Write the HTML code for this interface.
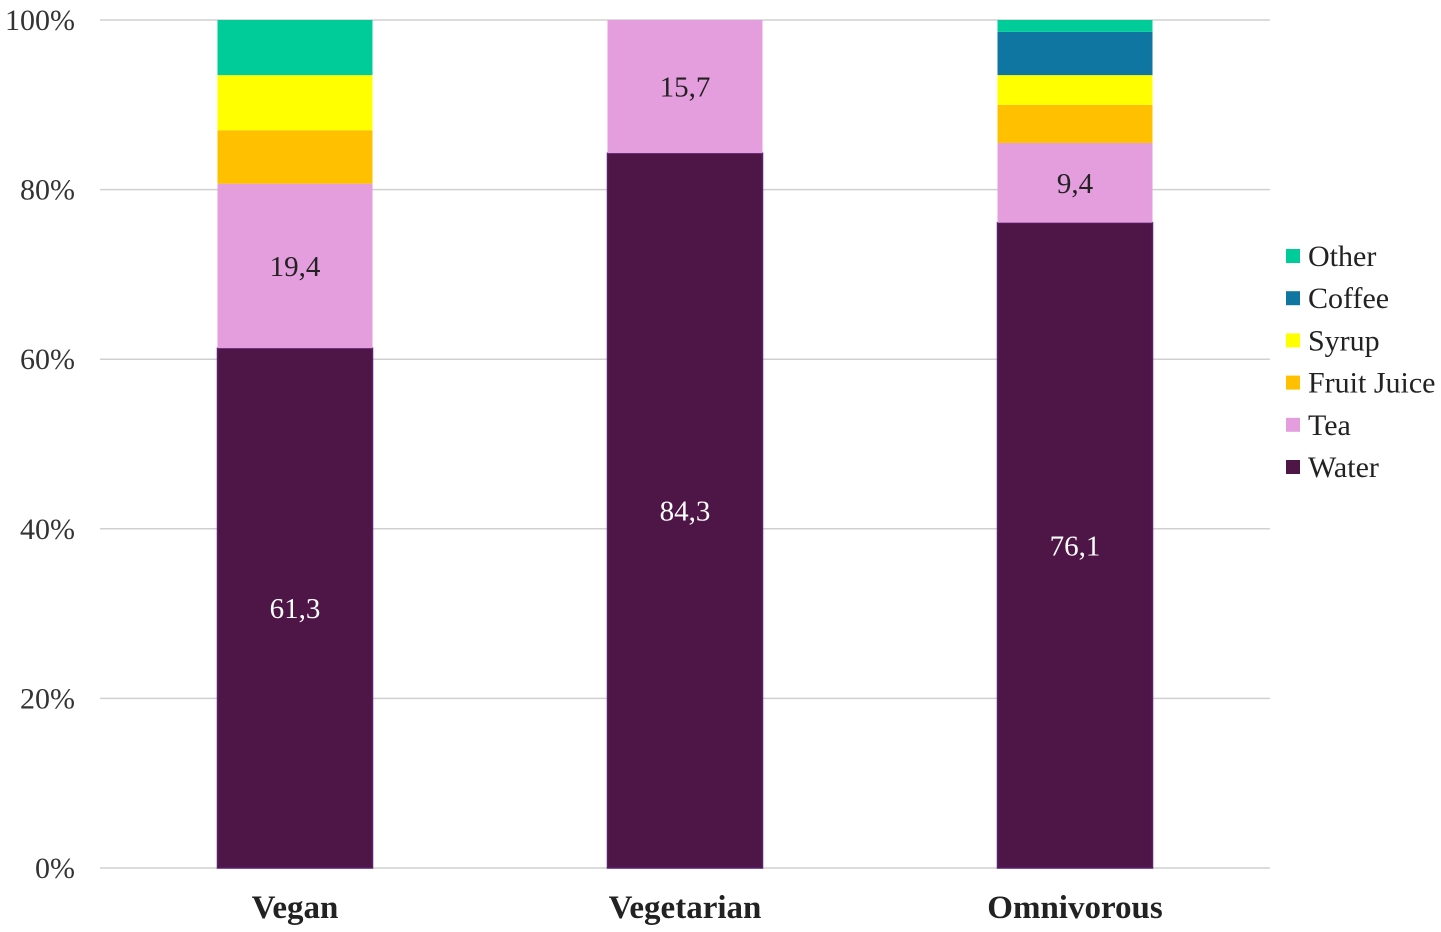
<!DOCTYPE html>
<html><head><meta charset="utf-8"><style>
html,body{margin:0;padding:0;background:#fff;}
svg{display:block;font-family:"Liberation Serif",serif;}
</style></head><body>
<svg id="chart" width="1441" height="932" viewBox="0 0 1441 932">
<g id="grid"></g><g id="bars"></g><g id="labels"></g><g id="legend"></g>
</svg>
<script>
const categories = ["Vegan","Vegetarian","Omnivorous"];
const seriesNames = ["Water","Tea","Fruit Juice","Syrup","Coffee","Other"];
const water = [61.3, 84.3, 76.1];
const tea = [19.4, 15.7, 9.4];
const fruitJuice = [6.3, 0, 4.5];
const syrup = [6.5, 0, 3.5];
const coffee = [0, 0, 5.1];
const other = [6.5, 0, 1.4];
const yTicks = [0,20,40,60,80,100];
const tickLabels = ["0%","20%","40%","60%","80%","100%"];
const valueLabels = [["61,3","84,3","76,1"],["19,4","15,7","9,4"],null,null,null,null];

const series = [water,tea,fruitJuice,syrup,coffee,other];
const colors = ["#4E1646","#E59EDD","#FFC000","#FFFF00","#0E76A0","#00CC99"];
const NS="http://www.w3.org/2000/svg";
const y0=868, y1=20, xL=100, xR=1270;
const y=v=>y0-(v/100)*(y0-y1);
const centers=[295,685,1075];
const bw=155;
const x=i=>centers[i];
function mk(tag,attrs,parent,text){const e=document.createElementNS(NS,tag);for(const k in attrs)e.setAttribute(k,attrs[k]);if(text!==undefined)e.textContent=text;parent.appendChild(e);return e;}
const G=document.getElementById('grid'),B=document.getElementById('bars'),L=document.getElementById('labels'),LG=document.getElementById('legend');
yTicks.forEach((t,i)=>{
  const l=mk('line',{x1:xL,x2:xR,y1:y(t),y2:y(t),stroke:'#d0d0d0','stroke-width':1.5},G);
  
  
  const tx=mk('text',{x:75,y:y(t)+10,'text-anchor':'end','font-size':30,fill:'#333'},G,tickLabels[i]);
  
  
});
categories.forEach((c,i)=>{
  let acc=0;
  series.forEach((s,j)=>{
    const v=s[i]; if(v<=0) return;
    const r=mk('rect',{x:x(i)-bw/2,y:y(acc+v),width:bw,height:y(acc)-y(acc+v),fill:colors[j],stroke:j===0?'#5a1f70':'none','stroke-width':1.5},B);
    
    
    if(valueLabels[j]&&valueLabels[j][i]){
      const t=mk('text',{x:x(i),y:(y(acc)+y(acc+v))/2+10,'text-anchor':'middle','font-size':29,fill:j===0?'#fff':'#222'},L,valueLabels[j][i]);
      
      
    }
    acc+=v;
  });
  const ct=mk('text',{x:x(i),y:918,'text-anchor':'middle','font-size':33,'font-weight':'bold',fill:'#222'},L,c);
  
  
});
const order=[5,4,3,2,1,0];
order.forEach((j,k)=>{
  const yy=256+k*42.2;
  const g=mk('g',{},LG);
  
  
  mk('rect',{x:1286,y:yy-7,width:14,height:14,fill:colors[j]},g);
  mk('text',{x:1308,y:yy+10,'font-size':30,fill:'#222'},g,seriesNames[j]);
});
</script>
</body></html>
